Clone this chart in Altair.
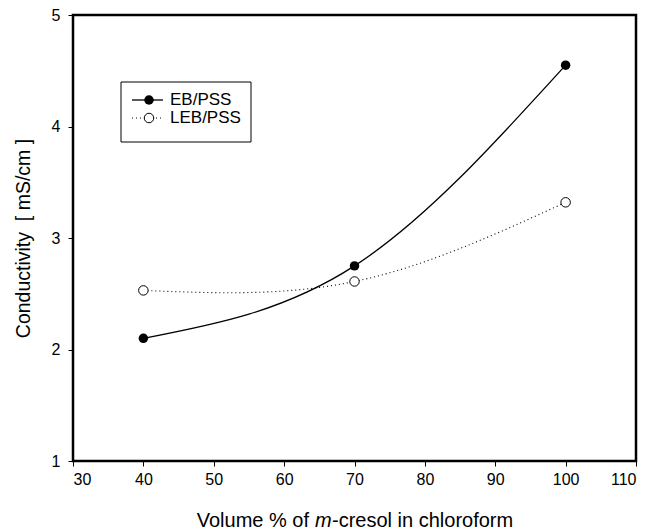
import altair as alt
import pandas as pd

x_vals = [40, 70, 100]
eb_vals = [2.10, 2.75, 4.55]
leb_vals = [2.53, 2.61, 3.32]
series_names = ["EB/PSS", "LEB/PSS"]
x_ticks = [30, 40, 50, 60, 70, 80, 90, 100, 110]
y_ticks = [1, 2, 3, 4, 5]

eb = pd.DataFrame({"x": x_vals, "y": eb_vals, "s": series_names[0]})
leb = pd.DataFrame({"x": x_vals, "y": leb_vals, "s": series_names[1]})

FONT = "Liberation Sans"
W, H = 563, 446
TOP = 7

xs = alt.Scale(domain=[30, 110], nice=False, zero=False)
ys = alt.Scale(domain=[1, 5], nice=False, zero=False)

xax = alt.Axis(values=x_ticks, title=None, grid=False, tickSize=5, tickColor="black",
               domain=False, labelFont=FONT, labelFontSize=16, labelColor="black",
               labelPadding=5, tickWidth=1, format="d")
yax = alt.Axis(values=y_ticks, title="Conductivity\u00a0\u00a0[\u00a0mS/cm\u00a0]", grid=False, tickSize=5,
               tickColor="black", domain=False, labelFont=FONT, labelFontSize=16,
               labelColor="black", labelPadding=8, tickWidth=1, format="d",
               titleFont=FONT, titleFontSize=19.5, titleFontWeight="normal", titleColor="black",
               titleX=-50, titleY=223, titleAngle=-90, titleAlign="center",
               titleBaseline="middle")

enc_x = alt.X("x:Q", scale=xs, axis=xax)
enc_y = alt.Y("y:Q", scale=ys, axis=yax)

one = pd.DataFrame({"a": [0]})

# plot frame
frame = alt.Chart(one).mark_rect(fill="transparent", stroke="#000000", strokeWidth=2.5,
                                 strokeOpacity=1, opacity=1).encode(
    x=alt.value(0), x2=alt.value(W), y=alt.value(0), y2=alt.value(H))

eb_line = alt.Chart(eb).mark_line(color="black", strokeWidth=1.3, interpolate="natural").encode(x=enc_x, y=enc_y)
eb_pts = alt.Chart(eb).mark_point(filled=True, color="black", size=90, opacity=1).encode(x="x:Q", y="y:Q")
leb_line = alt.Chart(leb).mark_line(color="black", strokeWidth=1.1, strokeDash=[1, 3],
                                    interpolate="natural").encode(x="x:Q", y="y:Q")
leb_pts = alt.Chart(leb).mark_point(filled=True, fill="white", stroke="black", strokeWidth=1,
                                    size=90, opacity=1).encode(x="x:Q", y="y:Q")

# legend
box = alt.Chart(one).mark_rect(fill="white", stroke="black", strokeWidth=1).encode(
    x=alt.value(48), x2=alt.value(178), y=alt.value(67), y2=alt.value(127))
lg1 = alt.Chart(one).mark_rule(color="black", strokeWidth=1.3).encode(
    x=alt.value(59), x2=alt.value(90), y=alt.value(85))
lg2 = alt.Chart(one).mark_rule(color="black", strokeWidth=1.1, strokeDash=[1, 3]).encode(
    x=alt.value(59), x2=alt.value(90), y=alt.value(103))
lp1 = alt.Chart(one).mark_point(filled=True, color="black", size=90, opacity=1).encode(
    x=alt.value(76), y=alt.value(85))
lp2 = alt.Chart(one).mark_point(filled=True, fill="white", stroke="black", strokeWidth=1,
                                size=90, opacity=1).encode(x=alt.value(76), y=alt.value(103))
lt1 = alt.Chart(one).mark_text(text=series_names[0], font=FONT, fontSize=17, align="left",
                               baseline="middle", color="black").encode(x=alt.value(97), y=alt.value(85))
lt2 = alt.Chart(one).mark_text(text=series_names[1], font=FONT, fontSize=17, align="left",
                               baseline="middle", color="black").encode(x=alt.value(97), y=alt.value(103))

# x-axis title with italic m
TY = 512
t1 = alt.Chart(one).mark_text(text="Volume % of", font=FONT, fontSize=20, align="right",
                              baseline="alphabetic", color="black").encode(x=alt.value(236), y=alt.value(TY))
t2 = alt.Chart(one).mark_text(text="m", font=FONT, fontSize=20, fontStyle="italic", align="left",
                              baseline="alphabetic", color="black").encode(x=alt.value(242), y=alt.value(TY))
t3 = alt.Chart(one).mark_text(text="-cresol in chloroform", font=FONT, fontSize=20, align="left",
                              baseline="alphabetic", color="black").encode(x=alt.value(259), y=alt.value(TY))

chart = alt.layer(eb_line, leb_line, eb_pts, leb_pts, frame,
                  box, lg1, lg2, lp1, lp2, lt1, lt2, t1, t2, t3).properties(
    width=W, height=H,
    autosize=alt.AutoSizeParams(type="none"),
    padding={"left": 65, "top": TOP, "right": 20, "bottom": 80},
).configure(background="white").configure_view(strokeWidth=0)

chart.save("out.html", embed_options={"renderer": "svg", "actions": False})
